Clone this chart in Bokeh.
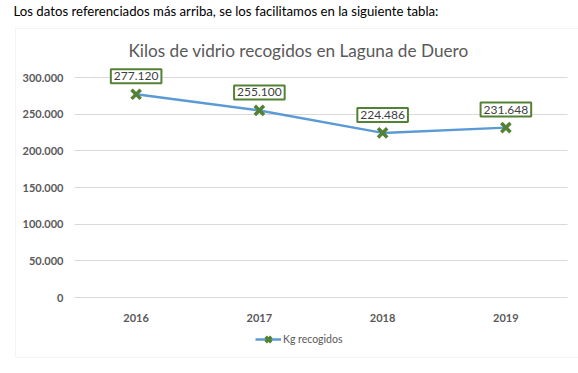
from bokeh.plotting import figure
from bokeh.models import (Range1d, FixedTicker, Label, ColumnDataSource, LinearAxis, Grid,
                          BoxAnnotation, Legend, LegendItem)
from bokeh.embed import file_html
from bokeh.resources import INLINE

header = "Los datos referenciados más arriba, se los facilitamos en la siguiente tabla:"
title = "Kilos de vidrio recogidos en Laguna de Duero"
years = ["2016", "2017", "2018", "2019"]
kg = [277120, 255100, 224486, 231648]
kg_labels = ["277.120", "255.100", "224.486", "231.648"]
y_ticks = [0, 50000, 100000, 150000, 200000, 250000, 300000]
y_tick_labels = ["0", "50.000", "100.000", "150.000", "200.000", "250.000", "300.000"]
series_name = "Kg recogidos"

FONT = "Lato"
GRAY = "#595959"
BLUE = "#5B9BD5"
GREEN = "#538135"

W, H = 578, 373
# category slots: each category occupies one unit, centred at i + 0.5
xpos = [i + 0.5 for i in range(len(years))]
src = ColumnDataSource(dict(x=xpos, kg=kg, lbl=kg_labels))

p = figure(width=W, height=H, x_range=Range1d(-0.6004, 4.0892), y_range=Range1d(-103636, 405000),
           output_backend="svg", toolbar_location=None,
           min_border=0, x_axis_location=None, y_axis_location=None)
p.outline_line_color = None
p.background_fill_color = "white"
p.border_fill_color = "white"
p.xgrid.grid_line_color = None
p.ygrid.grid_line_color = None

# chart box
box = BoxAnnotation(left=15, right=700, bottom=H - 357, top=H - 28,
                    left_units="screen", right_units="screen", top_units="screen", bottom_units="screen",
                    fill_alpha=0, line_color="#D9D9D9", line_width=1, level="underlay")
p.add_layout(box)

yax = LinearAxis(ticker=FixedTicker(ticks=y_ticks), fixed_location=0)
yax.major_label_overrides = dict(zip(y_ticks, y_tick_labels))
xax = LinearAxis(ticker=FixedTicker(ticks=xpos), fixed_location=0)
xax.major_label_overrides = dict(zip(xpos, years))
for ax in (xax, yax):
    ax.axis_line_color = None
    ax.major_tick_line_color = None
    ax.minor_tick_line_color = None
    ax.major_label_text_font = FONT
    ax.major_label_text_font_style = "bold"
    ax.major_label_text_font_size = "11px"
    ax.major_label_text_color = GRAY
yax.major_label_standoff = 5
xax.major_label_standoff = 10
p.add_layout(yax, "left")
p.add_layout(xax, "below")

p.add_layout(Grid(dimension=1, ticker=FixedTicker(ticks=y_ticks), cross_bounds=(0, len(years)),
                  grid_line_color="#D9D9D9", grid_line_width=1))

line_r = p.line(x="x", y="kg", source=src, line_color=BLUE, line_width=2.5)
sc_r = p.scatter(x="x", y="kg", source=src, marker="x", size=13, line_color=GREEN, line_width=3.5)

for xi, v, t in zip(xpos, kg, kg_labels):
    p.add_layout(Label(x=xi, y=v, text=t, y_offset=18,
                       text_align="center", text_baseline="middle", text_font=FONT,
                       text_font_size="12px", text_color="#404040",
                       background_fill_color="white", border_line_color=GREEN, border_line_width=2,
                       padding=3))

p.add_layout(Label(x=13, y=H - 10, x_units="screen", y_units="screen", text=header,
                   text_font=FONT, text_font_size="13.2px", text_color="#000000",
                   text_baseline="middle", text_align="left"))
p.add_layout(Label(x=298, y=H - 50, x_units="screen", y_units="screen", text=title,
                   text_font=FONT, text_font_size="17.2px", text_color=GRAY,
                   text_baseline="middle", text_align="center"))

legend = Legend(items=[LegendItem(label=series_name, renderers=[line_r, sc_r])],
                location=(255, H - 349), orientation="horizontal",
                border_line_color=None, background_fill_alpha=0,
                label_text_font=FONT, label_text_font_size="10.5px", label_text_color=GRAY,
                glyph_width=26, glyph_height=20, padding=0, margin=0, label_standoff=2)
p.add_layout(legend, "center")

open("out.html", "w").write(file_html(p, INLINE))
